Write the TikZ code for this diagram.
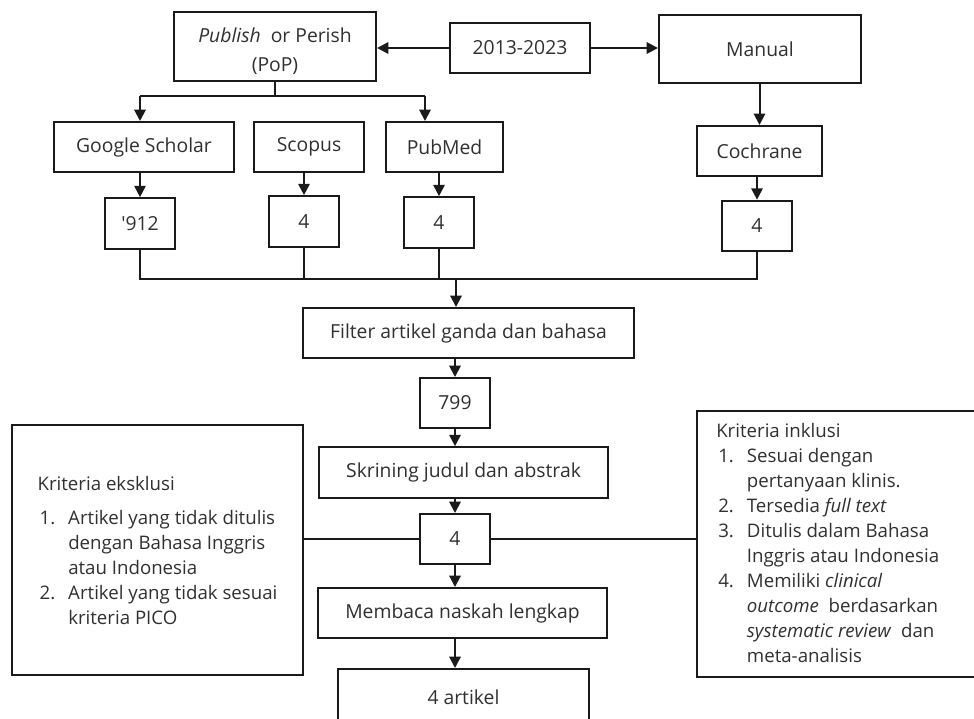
\documentclass[tikz,border=0pt]{standalone}
\usepackage{fontspec}
\setmainfont{Open Sans}
\usetikzlibrary{arrows.meta}
\definecolor{fgaris}{HTML}{1A1A1A}
\definecolor{fteks}{HTML}{303030}
\newcommand\butir[1]{\makebox[23pt][l]{\hspace*{1.5pt}#1}}
\newcommand\lanjut{\hspace*{23pt}}
\tikzset{
  kotak/.style={draw=fgaris,line width=1.5pt,fill=white,text=fteks,inner sep=2pt,align=center,font=\fontsize{14.5}{17.5}\selectfont},
  jumlah/.style={kotak,minimum width=52.5pt,minimum height=38pt},
  garis/.style={draw=fgaris,line width=1.5pt},
  panah/.style={garis,-{Triangle[length=8.5pt,width=8.5pt]}},
  daftar/.style={text=fteks,font=\fontsize{14}{18.75}\selectfont,align=left,inner sep=0pt},
}
\begin{document}
\begin{tikzpicture}[x=0.75pt,y=-0.75pt]
  \clip (0,0) rectangle (974,718);
  % sumber pencarian
  \node[kotak,minimum width=151.5pt,minimum height=51.75pt] (pop) at (275,46.5) {};
  \node[kotak,draw=none,fill=none,inner sep=0pt] (teksppop) at ([shift={(0,5)}]pop.center) {\textit{Publish}\ \ or Perish\\[4.25pt](PoP)};
  \node[kotak,minimum width=105pt,minimum height=37.5pt] (tahun) at (520,48) {2013-2023};
  \node[kotak,minimum width=151.5pt,minimum height=51pt] (manual) at (760,49) {Manual};
  \node[kotak,minimum width=135pt,minimum height=37.5pt] (gs) at (144,147) {Google Scholar};
  \node[kotak,minimum width=82.5pt,minimum height=37.5pt] (scopus) at (309,147) {Scopus};
  \node[kotak,minimum width=87.75pt,minimum height=37.5pt] (pubmed) at (444.5,147) {PubMed};
  \node[kotak,minimum width=93.75pt,minimum height=37.5pt] (cochrane) at (759.5,151) {Cochrane};
  \node[jumlah] (jgs) at (140,223.5) {\textquotesingle912};
  \node[jumlah] (jscopus) at (304,221.5) {4};
  \node[jumlah] (jpubmed) at (439,222.5) {4};
  \node[jumlah] (jcochrane) at (757,226) {4};
  % seleksi
  \node[kotak,minimum width=248.25pt,minimum height=37.5pt] (filter) at (468.5,333) {Filter artikel ganda dan bahasa};
  \node[jumlah,minimum height=37.5pt] (j799) at (455,403) {799};
  \node[kotak,minimum width=216.75pt,minimum height=38pt] (skrining) at (463.5,472.5) {Skrining judul dan abstrak};
  \node[jumlah,minimum height=37.5pt] (jskrining) at (455,539) {4};
  \node[kotak,minimum width=216.75pt,minimum height=37.5pt] (membaca) at (462.5,613) {Membaca naskah lengkap};
  \node[kotak,minimum width=188.25pt,minimum height=42pt] (hasil) at (463.5,697) {4 artikel};
  % kriteria
  \node[kotak,minimum width=218.25pt,minimum height=187.5pt,align=left,font=\fontsize{14}{18.75}\selectfont] (eksklusi) at (157.5,550) {Kriteria eksklusi\\[6.75pt]
    \butir{1.}Artikel yang tidak ditulis\\
    \lanjut dengan Bahasa Inggris\\
    \lanjut atau Indonesia\\
    \butir{2.}Artikel yang tidak sesuai\\
    \lanjut kriteria PICO};
  \node[kotak,minimum width=219.75pt,minimum height=199.5pt] (inklusi) at (843.5,544) {};
  \node[daftar,anchor=north west] (teksinklusi) at ([shift={(20,13)}]inklusi.north west) {Kriteria inklusi\\
    \butir{1.}Sesuai dengan\\
    \lanjut pertanyaan klinis.\\
    \butir{2.}Tersedia \textit{full text}\\
    \butir{3.}Ditulis dalam Bahasa\\
    \lanjut Inggris atau Indonesia\\
    \butir{4.}Memiliki \textit{clinical}\\
    \lanjut\textit{outcome}\ \ berdasarkan\\
    \lanjut\textit{systematic review}\ \ dan\\
    \lanjut meta-analisis};
  % penghubung
  \coordinate (cabkiri) at (140,96);
  \coordinate (cabkanan) at (425,96);
  \coordinate (kumpul) at (456,279);
  \draw[panah] (tahun.west) -- (tahun.west -| pop.east);
  \draw[panah] (tahun.east) -- (tahun.east -| manual.west);
  \draw[garis] (pop.south) -- (pop.south |- cabkiri);
  \draw[garis] (cabkiri) -- (cabkanan);
  \draw[panah] (cabkiri) -- (cabkiri |- gs.north);
  \draw[panah] (cabkanan) -- (cabkanan |- pubmed.north);
  \draw[panah] (manual.south -| cochrane.north) -- (cochrane.north);
  \draw[panah] (gs.south -| jgs.north) -- (jgs.north);
  \draw[panah] (scopus.south -| jscopus.north) -- (jscopus.north);
  \draw[panah] (pubmed.south -| jpubmed.north) -- (jpubmed.north);
  \draw[panah] (cochrane.south -| jcochrane.north) -- (jcochrane.north);
  \draw[garis] (jgs.south) -- (jgs.south |- kumpul) -- (jcochrane.south |- kumpul) -- (jcochrane.south);
  \draw[garis] (jscopus.south) -- (jscopus.south |- kumpul);
  \draw[garis] (jpubmed.south) -- (jpubmed.south |- kumpul);
  \draw[panah] (kumpul) -- (kumpul |- filter.north);
  \draw[panah] (filter.south -| j799.north) -- (j799.north);
  \draw[panah] (j799.south) -- (j799.south |- skrining.north);
  \draw[panah] (skrining.south -| jskrining.north) -- (jskrining.north);
  \draw[panah] (jskrining.south) -- (jskrining.south |- membaca.north);
  \draw[panah] (membaca.south -| jskrining.south) -- (hasil.north -| jskrining.south);
  \draw[garis] (eksklusi.east |- jskrining.west) -- (jskrining.west);
  \draw[garis] (jskrining.east) -- (jskrining.east -| inklusi.west);
\end{tikzpicture}
\end{document}
